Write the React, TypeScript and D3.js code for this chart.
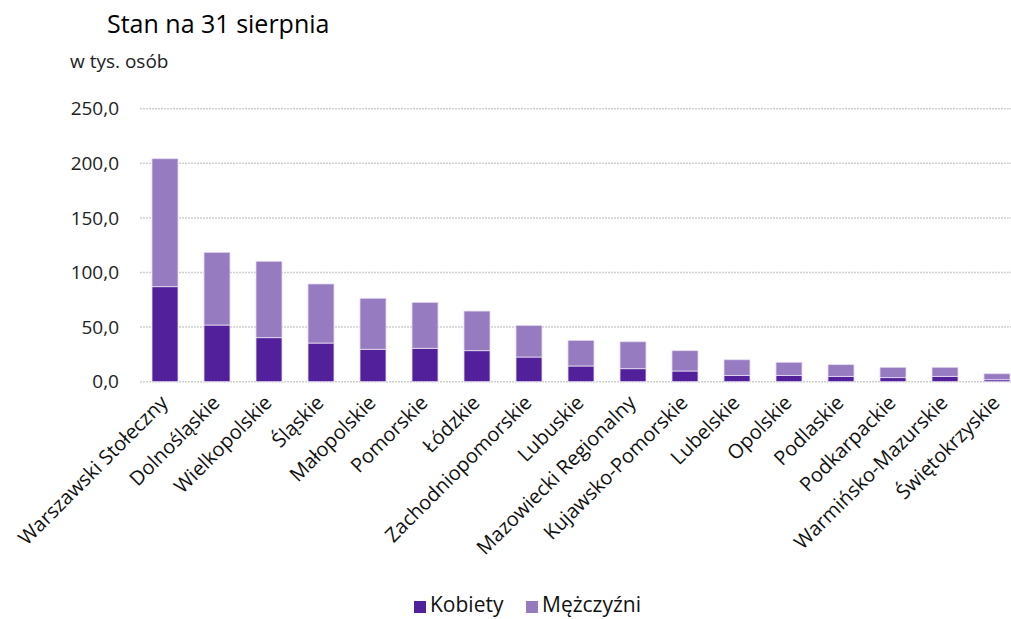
import * as d3 from 'd3';

const regions = [
  'Warszawski Stołeczny', 'Dolnośląskie', 'Wielkopolskie', 'Śląskie', 'Małopolskie',
  'Pomorskie', 'Łódzkie', 'Zachodniopomorskie', 'Lubuskie', 'Mazowiecki Regionalny',
  'Kujawsko-Pomorskie', 'Lubelskie', 'Opolskie', 'Podlaskie', 'Podkarpackie',
  'Warmińsko-Mazurskie', 'Świętokrzyskie',
];
const kobiety = [87.0, 51.9, 40.3, 35.4, 29.7, 30.6, 28.4, 22.6, 14.4, 11.9, 9.8, 5.8, 5.8, 4.9, 3.7, 4.9, 1.8];
const total = [204.2, 118.5, 110.3, 89.5, 76.4, 72.7, 64.7, 51.6, 37.9, 36.6, 28.4, 20.1, 17.8, 15.6, 13.2, 13.2, 7.3];
const mezczyzni = total.map((t, i) => +(t - kobiety[i]).toFixed(1));
const yTicks = [0, 50, 100, 150, 200, 250];

const DARK = '#52209a';
const LIGHT = '#977bc0';
const FONT = '"Open Sans", "Noto Sans", sans-serif';

export default function App() {
  const width = 1011;
  const height = 619;

  const x = d3.scaleBand<string>().domain(regions).range([139, 1023]).paddingInner(0.5).paddingOuter(0.25);
  const y = d3.scaleLinear().domain([0, 250]).range([381.7, 108.7]);
  const fmt = (v: number) => d3.format('.1f')(v).replace('.', ',');

  const stacked = regions.map((r, i) => ({ r, k: kobiety[i], m: mezczyzni[i] }));

  return (
    <div style={{ position: 'fixed', left: 0, top: 0 }}>
      <svg width={width} height={height} style={{ display: 'block', background: '#fff', fontFamily: FONT }}>
        <text x={107} y={33} fontSize={25} fill="#000">Stan na 31 sierpnia</text>
        <text x={70} y={68} fontSize={19} fill="#222">w tys. osób</text>

        {yTicks.map((t) => (
          <g key={t}>
            <line x1={140} x2={width} y1={y(t)} y2={y(t)} stroke="#cfcfcf" strokeWidth={1.5} strokeDasharray="2,1" />
            <text x={119} y={y(t)} dy="0.35em" textAnchor="end" fontSize={19} fill="#222">{fmt(t)}</text>
          </g>
        ))}

        {stacked.map((d) => (
          <g key={d.r}>
            <rect x={x(d.r)} y={y(d.k)} width={x.bandwidth()} height={y(0) - y(d.k)} fill={DARK} stroke="#e6ddf2" strokeWidth={0.8} />
            <rect x={x(d.r)} y={y(d.k + d.m)} width={x.bandwidth()} height={y(d.k) - y(d.k + d.m)} fill={LIGHT} stroke="#e6ddf2" strokeWidth={0.8} />
          </g>
        ))}

        {regions.map((r) => {
          const cx = (x(r) ?? 0) + x.bandwidth() / 2 + 4;
          return (
            <text key={r} transform={`translate(${cx},${404}) rotate(-45)`} textAnchor="end" fontSize={20} fill="#111">{r}</text>
          );
        })}

        <g transform="translate(414,596)">
          <rect x={0} y={5} width={12} height={12} fill={DARK} />
          <text x={16} y={16} fontSize={21} fill="#111">Kobiety</text>
          <rect x={112} y={5} width={12} height={12} fill={LIGHT} />
          <text x={128} y={16} fontSize={21} fill="#111">Mężczyźni</text>
        </g>
      </svg>
    </div>
  );
}
